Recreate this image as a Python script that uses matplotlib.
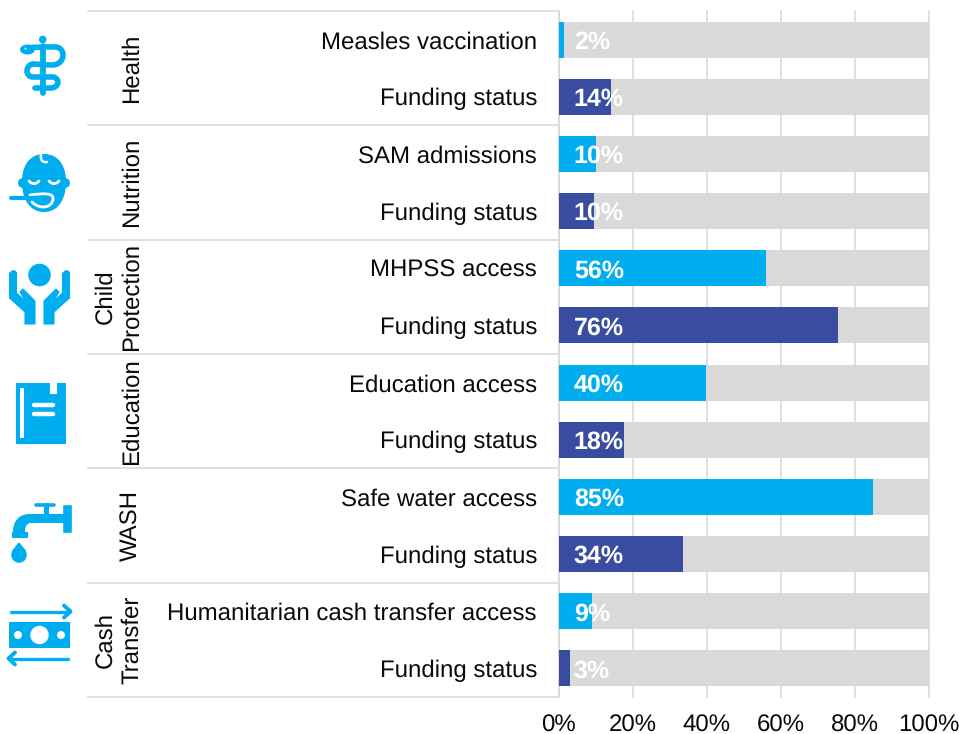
import matplotlib
matplotlib.use('Agg')
import matplotlib.pyplot as plt
from matplotlib.patches import Circle, Ellipse, Polygon, Rectangle, PathPatch
from matplotlib.path import Path

plt.rcParams['font.family'] = ['Liberation Sans', 'DejaVu Sans']
plt.rcParams['text.hinting'] = 'no_hinting'
plt.rcParams['text.hinting_factor'] = 1

# data
groups = ['Health', 'Nutrition', 'Child\nProtection', 'Education', 'WASH', 'Cash\nTransfer']
rows = ['Measles vaccination', 'Funding status',
        'SAM admissions', 'Funding status',
        'MHPSS access', 'Funding status',
        'Education access', 'Funding status',
        'Safe water access', 'Funding status',
        'Humanitarian cash transfer access', 'Funding status']
values = [1.5, 14.1, 10.1, 9.5, 56, 75.5, 39.7, 17.8, 85, 33.5, 9, 3.2]
value_labels = ['2%', '14%', '10%', '10%', '56%', '76%', '40%', '18%', '85%', '34%', '9%', '3%']
xticks = [0, 20, 40, 60, 80, 100]

CYAN = '#00aeef'
NAVY = '#394da0'
GREY = '#d9d9d9'
INK = '#0a0a0a'
W, H = 959, 734
FS = 17.3

fig = plt.figure(figsize=(W / 100, H / 100), dpi=100)

# main bars
ax = fig.add_axes([558.5 / W, 1 - 697 / H, 370.5 / W, 686 / H])
y = list(range(len(rows)))
colors = [CYAN if i % 2 == 0 else NAVY for i in y]
ax.barh(y, [100] * len(y), height=0.63, color=GREY, zorder=2)
ax.barh(y, values, height=0.63, color=colors, zorder=3)
for i, lab in zip(y, value_labels):
    ax.annotate(lab, (0, i), xytext=(11, 0), textcoords='offset points', color='white',
                fontsize=17.8, fontweight='bold', va='center_baseline', zorder=4)
ax.set_xlim(0, 100)
ax.set_ylim(11.5, -0.5)
ax.set_yticks(y, rows, fontsize=FS, color=INK)
ax.set_xticks(xticks, [f'{t}%' for t in xticks], fontsize=FS, color=INK)
ax.tick_params(axis='y', length=0, pad=15.5)
ax.tick_params(axis='x', length=0, pad=12.5)
ax.grid(axis='x', color=GREY, lw=1.2, zorder=1)
ax.set_axisbelow(True)
for g in ax.get_xgridlines():
    g.set_clip_on(False)
for s in ['top', 'right', 'bottom']:
    ax.spines[s].set_visible(False)
ax.spines['left'].set_color(GREY)
ax.spines['left'].set_linewidth(1.2)

# pixel overlay for group column and icons
ov = fig.add_axes([0, 0, 1, 1], zorder=-1)
ov.set_xlim(0, W)
ov.set_ylim(H, 0)
ov.axis('off')

for k in range(len(groups) + 1):
    yy = 11 + k * 686 / len(groups)
    ov.plot([88, 557], [yy, yy], color=GREY, lw=1.2)
for k, g in enumerate(groups):
    yy = 11 + (k + 0.5) * 686 / len(groups)
    ov.text(143, yy, g, rotation=90, ha='right', va='center', ma='center', fontsize=FS,
            color=INK, linespacing=1.22)


def line(pts, color=CYAN, lw=3, cap='round'):
    xs, ys = zip(*pts)
    ov.plot(xs, ys, color=color, lw=lw, solid_capstyle=cap, solid_joinstyle='round')


def curve(verts, codes, color=CYAN, lw=3.2):
    ov.add_patch(PathPatch(Path(verts, codes), fc='none', ec=color, lw=lw, capstyle='round'))


def poly(pts, color=CYAN):
    ov.add_patch(Polygon(pts, closed=True, fc=color, ec=color, lw=0.8, joinstyle='round'))


M, L, C = Path.MOVETO, Path.LINETO, Path.CURVE4

# health icon
ov.add_patch(Circle((42.7, 39.5), 3.8, fc=CYAN, ec='none'))
line([(42.7, 46), (42.7, 93)], lw=4.2)
curve([(28, 48), (35, 47), (45, 47), (55, 47), (66, 47), (66, 64), (53, 65),
       (45, 65), (38, 64), (33, 64), (25, 65), (25, 77), (33, 77),
       (40, 77), (46, 77), (53, 77), (60, 78), (60, 88), (50, 88), (45, 88), (40, 88), (35, 88)],
      [M] + [C] * 21, lw=4)
ov.add_patch(Ellipse((27.5, 49.5), 15, 10, fc=CYAN, ec='none'))
ov.add_patch(Circle((25.5, 48.5), 0.9, fc='white', ec='none'))

# nutrition icon
ov.add_patch(PathPatch(Path([(44, 154), (60, 154), (67, 168), (66, 185), (65, 200), (58, 212), (44, 212),
                             (30, 212), (23, 200), (22, 185), (21, 168), (28, 154), (44, 154)],
                            [M] + [C] * 12), fc=CYAN, ec='none'))
ov.add_patch(Circle((23, 183), 5, fc=CYAN, ec='none'))
ov.add_patch(Circle((65, 183), 5, fc=CYAN, ec='none'))
curve([(41, 155), (40, 160), (43, 163), (47, 162)], [M, C, C, C], color='white', lw=1.8)
curve([(29, 181), (32, 184.5), (36, 184.5), (39, 181)], [M, C, C, C], color='white', lw=2)
curve([(49, 181), (52, 184.5), (56, 184.5), (59, 181)], [M, C, C, C], color='white', lw=2)
curve([(30, 195), (44, 193), (54, 193), (53, 199), (52, 208), (40, 210), (32, 202)],
      [M, C, C, C, C, C, C], color='white', lw=2)
line([(11, 198), (38, 198)], lw=3)
ov.add_patch(Ellipse((43, 200.5), 15, 8, fc=CYAN, ec='none'))

# child protection icon
ov.add_patch(Circle((39.5, 275), 11.3, fc=CYAN, ec='none'))
for sx in (0, 1):
    hand = [(9.5, 273), (16.5, 273), (16.5, 293), (26, 302), (20, 292), (23, 289), (35, 301),
            (35, 324), (25, 324), (25, 312), (9.5, 298)]
    if sx:
        hand = [(79 - px, py) for px, py in hand]
    poly(hand)
    line([(79 * sx + (1 - 2 * sx) * 13, 273), (79 * sx + (1 - 2 * sx) * 13, 275)], lw=5)

# education icon
ov.add_patch(Rectangle((15.5, 382.5), 49, 60.5, fc=CYAN, ec=CYAN, lw=0.8))
line([(22, 388), (22, 438)], color='white', lw=2.9, cap='butt')
poly([(49.5, 382), (56, 382), (56, 393), (49.5, 393)], color='white')
line([(33.5, 405), (53, 405)], color='white', lw=3.2)
line([(33.5, 413.5), (53, 413.5)], color='white', lw=3.2)

# wash icon
line([(36, 505), (53.5, 505)], lw=2.6)
line([(45.5, 505), (45.5, 515)], lw=3.6)
ov.add_patch(Rectangle((63.5, 505.5), 7.5, 26, fc=CYAN, ec=CYAN, lw=1.2, joinstyle='round'))
ov.add_patch(PathPatch(Path([(66, 514), (30, 514), (19, 514), (13, 521), (13, 532), (25, 532),
                             (25, 526), (27, 523), (31, 523), (66, 523), (66, 514)],
                            [M, L, C, C, C, L, C, C, C, L, Path.CLOSEPOLY]),
                       fc=CYAN, ec='none'))
ov.add_patch(Rectangle((12, 531.5), 14.5, 5.5, fc=CYAN, ec=CYAN, lw=0.8, joinstyle='round'))
ov.add_patch(Circle((19, 555), 7.8, fc=CYAN, ec='none'))
poly([(19, 543), (12.5, 551), (25.5, 551)])

# cash transfer icon
ov.add_patch(Rectangle((9, 622), 61, 25.5, fc=CYAN, ec='none'))
ov.add_patch(Circle((18, 635), 4, fc='white', ec='none'))
ov.add_patch(Circle((39.5, 635), 9.2, fc='white', ec='none'))
ov.add_patch(Circle((61, 635), 4, fc='white', ec='none'))
line([(11, 611.5), (69, 611.5)], lw=2.4)
line([(64, 605.5), (70.5, 611.5), (64, 617.5)], lw=2.8)
line([(10, 658.5), (68, 658.5)], lw=2.4)
line([(15, 652.5), (8.5, 658.5), (15, 664.5)], lw=2.8)

fig.savefig('out.png', dpi=100)
